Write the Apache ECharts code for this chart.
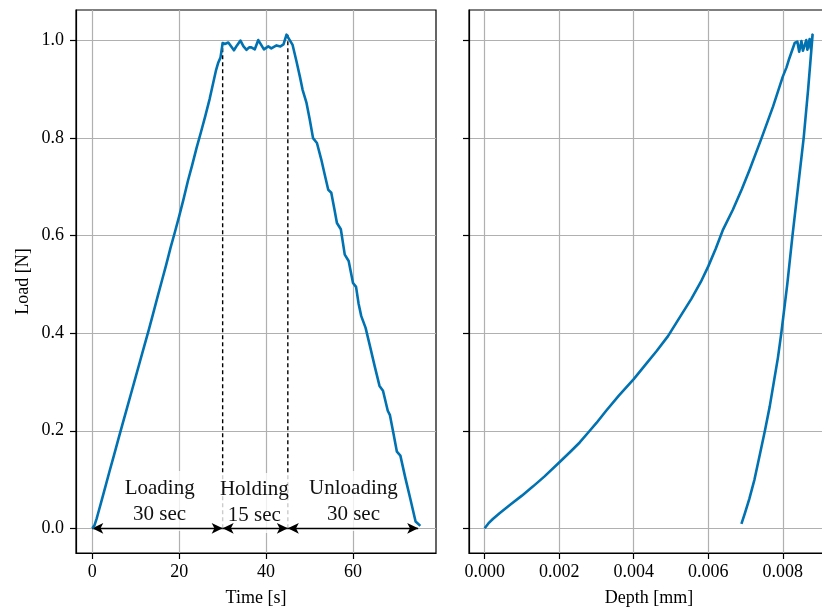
<!DOCTYPE html>
<html><head><meta charset="utf-8">
<script src="https://cdn.jsdelivr.net/npm/echarts@6/dist/echarts.min.js"></script>
<style>html,body{margin:0;padding:0;background:#fff}#c{width:822px;height:611px}</style>
</head><body><div id="c"></div>
<script>
// ---- Left panel: load vs time ----
const timeS = [0, 0.5, 1, 1.5, 2, 3, 4, 5, 6, 7, 8, 9, 10, 11, 12, 13, 14, 15, 16, 17, 18, 19, 20, 21, 22, 23, 24, 25, 26, 27, 28, 28.5, 29, 29.5, 30,
  30.5, 30.9, 31.3, 31.7, 32.6, 33.3, 34.1, 34.8, 35.5, 36.1, 36.6, 37.4, 38.2, 38.8, 39.5, 40.0, 40.5, 41.2, 41.8, 42.4, 43.3, 44.0, 44.7,
  45.3, 46.1, 47.0, 47.8, 48.4, 49.3, 50.0, 50.8, 51.7, 52.7, 53.5, 54.3, 55.0, 55.7, 56.3, 57.2, 58.1, 59.0, 60.0, 60.7, 61.3, 61.9, 62.9,
  64.0, 65.0, 66.1, 66.9, 68.0, 68.5, 69.3, 70.1, 70.9, 72.0, 73.2, 74.4, 75.5];
const loadTimeN = [0, 0.006, 0.02, 0.036, 0.052, 0.085, 0.118, 0.150, 0.183, 0.215, 0.247, 0.279, 0.311, 0.343, 0.375, 0.407, 0.440, 0.474, 0.507, 0.540, 0.575, 0.607, 0.640, 0.675, 0.712, 0.745, 0.780, 0.812, 0.845, 0.880, 0.920, 0.940, 0.955, 0.965, 0.995,
  0.993, 0.991, 0.996, 0.998, 0.980, 0.990, 1.000, 0.988, 0.981, 0.986, 0.986, 0.982, 1.001, 0.992, 0.982, 0.985, 0.988, 0.984, 0.987, 0.990, 0.988, 0.992, 1.012,
  1.003, 0.991, 0.957, 0.925, 0.899, 0.872, 0.840, 0.800, 0.790, 0.756, 0.725, 0.694, 0.688, 0.655, 0.626, 0.613, 0.561, 0.548, 0.503, 0.495, 0.460, 0.435, 0.411,
  0.370, 0.332, 0.292, 0.282, 0.241, 0.232, 0.195, 0.157, 0.149, 0.105, 0.060, 0.014, 0.005];

// ---- Right panel: load vs depth ----
const depthMm = [0, 0.0001, 0.00022, 0.0004, 0.00071, 0.0010, 0.0013, 0.0016, 0.0020, 0.0023, 0.00255, 0.00282, 0.0030, 0.00326, 0.0036, 0.0040, 0.0043, 0.00461, 0.00492, 0.00523, 0.00555, 0.0058, 0.0060, 0.0062, 0.0064, 0.00666, 0.0069, 0.00711, 0.00743, 0.00774, 0.0080, 0.0081, 0.00816, 0.00832,
  0.00839, 0.00844, 0.0085, 0.00854, 0.00863, 0.00866, 0.00872, 0.00875, 0.0088,
  0.00868, 0.00856, 0.00841, 0.00826, 0.00812, 0.00796, 0.00787, 0.00776, 0.00765, 0.00752, 0.00738, 0.00724, 0.00710, 0.00698, 0.00689];
const loadDepthN = [0, 0.010, 0.019, 0.031, 0.050, 0.067, 0.086, 0.106, 0.135, 0.157, 0.176, 0.200, 0.216, 0.241, 0.272, 0.306, 0.334, 0.363, 0.394, 0.432, 0.471, 0.505, 0.537, 0.573, 0.613, 0.653, 0.695, 0.735, 0.800, 0.865, 0.926, 0.945, 0.960, 0.995,
  0.998, 0.977, 0.999, 0.979, 1.001, 0.981, 1.003, 0.983, 1.012,
  0.9, 0.8, 0.7, 0.6, 0.5, 0.4, 0.35, 0.3, 0.25, 0.2, 0.15, 0.1, 0.06, 0.03, 0.009];

// ---- Annotations ----
const phaseBoundsS = [0, 30, 45, 75];
const phaseTopsN = [0.995, 1.012];          // tops of dashed lines at 30 s and 45 s
const phaseLabels = ['Loading\n30 sec', 'Holding\n15 sec', 'Unloading\n30 sec'];
const phaseLabelS = [15.5, 37.3, 60.1];
const phaseLabelN = [0.056, 0.052, 0.056];

// ---- Ticks ----
const timeTicks = [0, 20, 40, 60];
const depthTicks = [0, 0.002, 0.004, 0.006, 0.008];
const loadTicks = [0, 0.2, 0.4, 0.6, 0.8, 1.0];

const FONT = 'Liberation Serif';
const BLUE = '#0072b2';
const GRIDC = '#b0b0b0';

const zip = (a, b) => a.map((v, i) => [v, b[i]]);

function xAxisCfg(grid, min, max, ticks, dec, name) {
  return {
    type: 'value', gridIndex: grid, min, max,
    axisLine: { show: true, onZero: false, lineStyle: { color: '#000', width: 1.2 } },
    axisTick: { show: true, length: 6, customValues: ticks, lineStyle: { color: '#000', width: 1.2 } },
    axisLabel: { customValues: ticks, formatter: v => v.toFixed(dec), fontFamily: FONT, fontSize: 18, color: '#000', margin: 10 },
    splitLine: { show: true, lineStyle: { color: GRIDC, width: 1.2 } },
    name, nameLocation: 'middle', nameGap: 36,
    nameTextStyle: { fontFamily: FONT, fontSize: 18, color: '#000' }
  };
}
function yAxisCfg(grid, showLabels) {
  return {
    type: 'value', gridIndex: grid, min: -0.0506, max: 1.0626,
    axisLine: { show: true, onZero: false, lineStyle: { color: '#000', width: 1.2 } },
    axisTick: { show: true, length: 6, customValues: loadTicks, lineStyle: { color: '#000', width: 1.2 } },
    axisLabel: { show: showLabels, customValues: loadTicks, formatter: v => v.toFixed(1), fontFamily: FONT, fontSize: 18, color: '#000', margin: 12 },
    splitLine: { show: true, lineStyle: { color: GRIDC, width: 1.2 } },
    name: showLabels ? 'Load [N]' : '', nameLocation: 'middle', nameGap: 44,
    nameTextStyle: { fontFamily: FONT, fontSize: 18, color: '#000' }
  };
}

const chart = echarts.init(document.getElementById('c'), null, { renderer: 'canvas' });
chart.setOption({
  animation: false,
  backgroundColor: '#fff',
  grid: [
    { left: 76, top: 10, width: 360, height: 543, show: true, borderColor: '#000', borderWidth: 1.2, outerBoundsMode: 'none', containLabel: false },
    { left: 469, top: 10, width: 360, height: 543, show: true, borderColor: '#000', borderWidth: 1.2, outerBoundsMode: 'none', containLabel: false }
  ],
  xAxis: [
    xAxisCfg(0, -3.75, 79.1, timeTicks, 0, 'Time [s]'),
    xAxisCfg(1, -0.00042, 0.00924, depthTicks, 3, 'Depth [mm]')
  ],
  yAxis: [yAxisCfg(0, true), yAxisCfg(1, false)],
  series: [
    {
      type: 'line', xAxisIndex: 0, yAxisIndex: 0, z: 2, symbol: 'none', silent: true,
      data: [[phaseBoundsS[1], 0], [phaseBoundsS[1], phaseTopsN[0]]],
      lineStyle: { color: '#000', width: 1.4, type: [4, 3] }
    },
    {
      type: 'line', xAxisIndex: 0, yAxisIndex: 0, z: 2, symbol: 'none', silent: true,
      data: [[phaseBoundsS[2], 0], [phaseBoundsS[2], phaseTopsN[1]]],
      lineStyle: { color: '#000', width: 1.4, type: [4, 3] }
    },
    {
      type: 'scatter', xAxisIndex: 0, yAxisIndex: 0, z: 3, symbolSize: 0, silent: true,
      itemStyle: { opacity: 1 },
      data: phaseLabels.map((t, i) => ({ value: [phaseLabelS[i], phaseLabelN[i]], name: t })),
      label: {
        show: true, position: 'inside', formatter: p => p.name,
        fontFamily: FONT, fontSize: 21, lineHeight: 26, color: '#111',
        backgroundColor: 'rgba(255,255,255,0.8)', padding: [4, 4, 4, 4]
      }
    },
    {
      type: 'line', xAxisIndex: 0, yAxisIndex: 0, z: 5, symbol: 'none', silent: true,
      data: zip(timeS, loadTimeN),
      lineStyle: { color: BLUE, width: 2.6, join: 'round' },
      markLine: {
        silent: true, symbol: ['arrow', 'arrow'], symbolSize: [8, 11],
        label: { show: false },
        lineStyle: { color: '#000', width: 1.3, type: 'solid' },
        data: [0, 1, 2].map(i => [{ coord: [phaseBoundsS[i], 0] }, { coord: [phaseBoundsS[i + 1], 0] }])
      }
    },
    {
      type: 'line', xAxisIndex: 1, yAxisIndex: 1, z: 5, symbol: 'none', silent: true,
      data: zip(depthMm, loadDepthN),
      lineStyle: { color: BLUE, width: 2.6, join: 'round' }
    }
  ]
});
</script></body></html>
